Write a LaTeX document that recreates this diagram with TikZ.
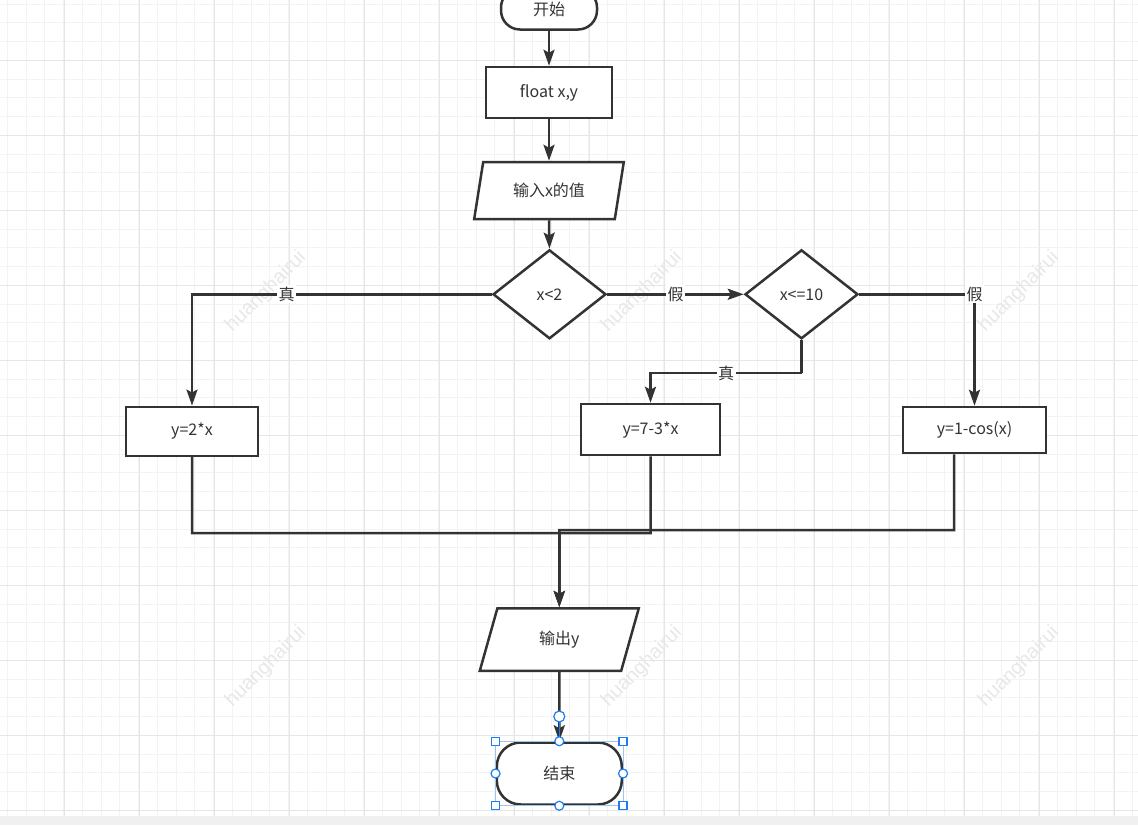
\documentclass[tikz,border=0pt]{standalone}
\usepackage{fontspec}
\setmainfont{Noto Sans CJK SC}
\newfontfamily\wmfont{Liberation Sans}
\usetikzlibrary{shapes.geometric,arrows.meta}
\definecolor{ln}{HTML}{333333}
\definecolor{gminor}{HTML}{F3F3F3}
\definecolor{gmajor}{HTML}{E6E6E6}
\definecolor{wm}{HTML}{E8E8E8}
\definecolor{hb}{HTML}{1E7DF0}
\definecolor{hbl}{HTML}{9CC5F3}
\definecolor{barc}{HTML}{F0F0F0}
\begin{document}
\begin{tikzpicture}[x=1pt,y=-1pt,
  base/.style={draw=ln,line width=2.5pt,fill=white,text=ln,inner sep=0pt,font=\fontsize{16pt}{18pt}\selectfont},
  term/.style={base,rectangle,rounded corners=19pt},
  proc/.style={base,rectangle},
  io/.style={base,trapezium,trapezium left angle=71.6,trapezium right angle=108.4,trapezium stretches=true},
  dec/.style={base,diamond},
  arr/.style={draw=ln,line width=2.5pt,-{Stealth[length=16pt,width=11pt,inset=3pt]}},
  con/.style={draw=ln,line width=2.5pt},
  lab/.style={fill=white,text=ln,inner sep=1.5pt,font=\fontsize{16pt}{18pt}\selectfont},
  wmark/.style={text=wm,rotate=45,font=\wmfont\fontsize{20pt}{22pt}\selectfont},
  hsq/.style={draw=hb,fill=white,line width=1.2pt,minimum size=8pt,inner sep=0pt,rectangle},
  hci/.style={draw=hb,fill=white,line width=1.2pt,minimum size=9pt,inner sep=0pt,circle}]
\useasboundingbox (0,0) rectangle (1138,825);
% background grid
\fill[white] (0,0) rectangle (1138,825);
\foreach \i in {0,...,60} \draw[gminor,line width=1pt] ({7.25+18.75*\i},0) -- ({7.25+18.75*\i},816);
\foreach \i in {0,...,43} \draw[gminor,line width=1pt] (0,{4.05+18.75*\i}) -- (1138,{4.05+18.75*\i});
\foreach \i in {0,...,14} \draw[gmajor,line width=1pt] ({64+75*\i},0) -- ({64+75*\i},816);
\foreach \i in {0,...,10} \draw[gmajor,line width=1pt] (0,{60.3+75*\i}) -- (1138,{60.3+75*\i});
\fill[barc] (0,816) rectangle (1138,825);
% watermarks
\node[wmark] (w1) at (266,292) {huanghairui};
\node[wmark] (w2) at (642,292) {huanghairui};
\node[wmark] (w3) at (1019,292) {huanghairui};
\node[wmark] (w4) at (266,667) {huanghairui};
\node[wmark] (w5) at (642,667) {huanghairui};
\node[wmark] (w6) at (1019,667) {huanghairui};
% nodes
\node[term,minimum width=96pt,minimum height=41pt] (start) at (549,9) {开始};
\node[proc,minimum width=126pt,minimum height=51pt] (decl) at (549,92.5) {float x,y};
\node[io,minimum width=150pt,minimum height=57pt] (in) at (549,190.5) {输入x的值};
\node[dec,minimum width=113pt,minimum height=89pt] (d1) at (549.5,294.3) {x<2};
\node[dec,minimum width=113pt,minimum height=89pt] (d2) at (801.5,294.3) {x<=10};
\node[proc,minimum width=132pt,minimum height=49pt] (b1) at (192,431.3) {y=2*x};
\node[proc,minimum width=139pt,minimum height=51pt] (b2) at (650.5,429.5) {y=7-3*x};
\node[proc,minimum width=143pt,minimum height=46pt] (b3) at (974.5,430) {y=1-cos(x)};
\node[io,minimum width=159pt,minimum height=62.5pt] (out) at (559.3,639.5) {输出y};
\node[term,rounded corners=24pt,minimum width=125pt,minimum height=62pt] (end) at (559.3,773.5) {结束};
% junction coordinates
\coordinate (k2) at (801.5,373);
\coordinate (jl) at (559.3,533);
\coordinate (jr) at (559.3,530);
% connectors
\draw[arr] (start) -- (decl);
\draw[arr] (decl) -- (in);
\draw[arr] (in.south) -- (d1.north);
\draw[arr] (d1.east) -- node[lab]{假} (d2.west);
\draw[arr] (d1.west) -| node[lab,pos=0.342]{真} (b1.north);
\draw[arr] (d2.east) -| node[lab,pos=0.5]{假} (b3.north);
\draw[con] (d2.south) -- (k2);
\draw[arr] (k2) -| node[lab,pos=0.25]{真} (b2.north);
\draw[arr] (b1.south) |- (jl) -- (out.north);
\draw[arr] (b2.south) |- (jl) -- (out.north);
\draw[arr] ([xshift=-20.5pt]b3.south) |- (jr) -- (out.north);
\draw[arr] (out.south) -- (end.north);
% selection handles
\draw[hbl,line width=0.9pt] (end.north west) rectangle (end.south east);
\draw[hb,line width=1pt] (559.3,716.5) -- (end.north);
\node[hci,minimum size=11pt] (h0) at (559.3,716.5) {};
\node[hsq] (h1) at (end.north west) {};
\node[hsq] (h2) at (end.north east) {};
\node[hsq] (h3) at (end.south west) {};
\node[hsq] (h4) at (end.south east) {};
\node[hci] (h5) at (end.north) {};
\node[hci] (h6) at (end.south) {};
\node[hci] (h7) at (end.west) {};
\node[hci] (h8) at (end.east) {};
\end{tikzpicture}
\end{document}
